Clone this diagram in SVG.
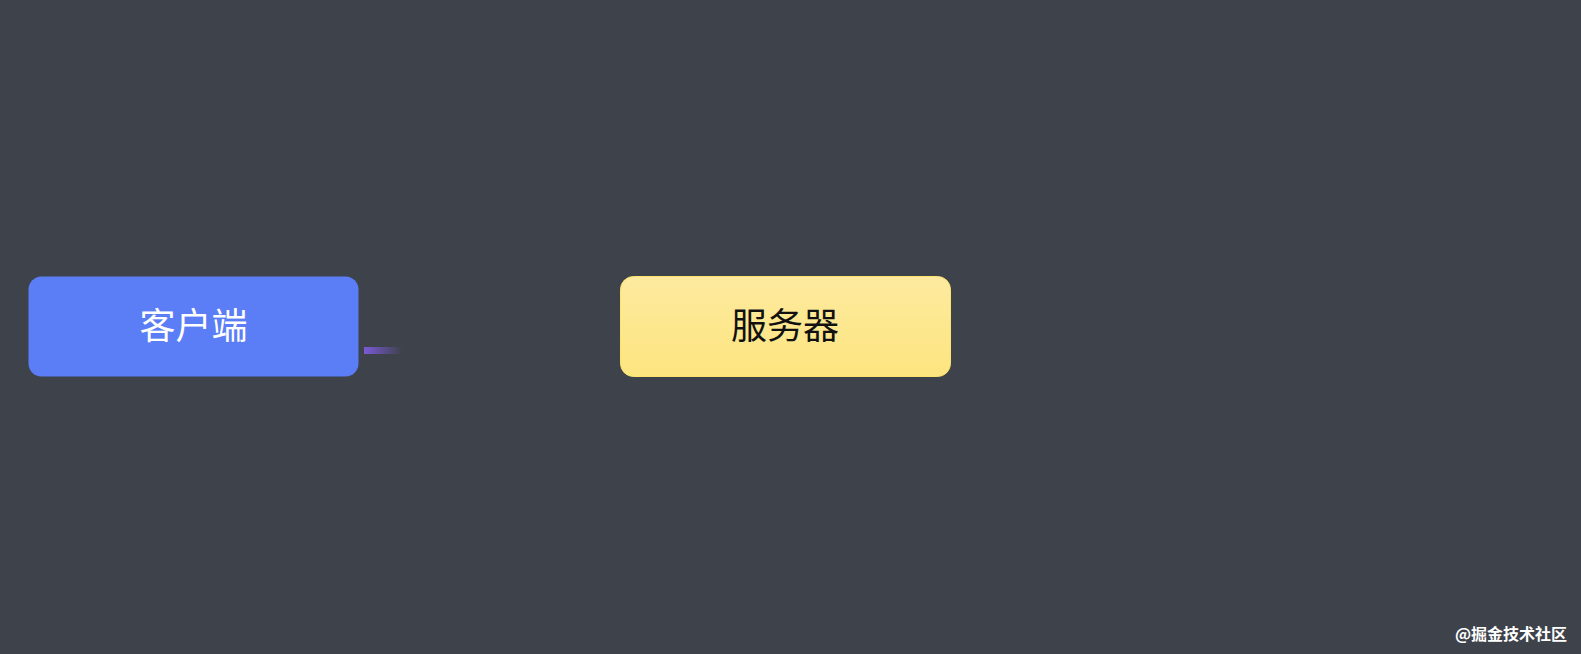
<svg xmlns="http://www.w3.org/2000/svg" width="1581" height="654" viewBox="0 0 1581 654">
<defs>
<linearGradient id="yg" x1="0" y1="0" x2="0" y2="1">
<stop offset="0" stop-color="#fdea9f"/>
<stop offset="1" stop-color="#fde57f"/>
</linearGradient>
<linearGradient id="cg" x1="0" y1="0" x2="1" y2="0">
<stop offset="0" stop-color="#7b5ad8"/>
<stop offset="1" stop-color="#7b5ad8" stop-opacity="0"/>
</linearGradient>
<style>
.lbl{font-family:"Noto Sans CJK SC","Noto Sans",sans-serif;font-size:36px;text-anchor:middle;dominant-baseline:central}
.wm{font-family:"Noto Sans CJK SC","Noto Sans",sans-serif;font-size:16px;font-weight:bold;fill:#ffffff;text-anchor:end}
</style>
</defs>
<rect x="0" y="0" width="1581" height="654" fill="#3e424b"/>
<g id="connectors">
<rect x="364" y="347" width="38" height="7" fill="url(#cg)"/>
</g>
<g id="client">
<rect x="28.5" y="276.5" width="330" height="100" rx="13" fill="#5b7ef7"/>
<text class="lbl" x="193.5" y="323" fill="#ffffff">客户端</text>
</g>
<g id="server">
<rect x="620.5" y="276.5" width="330" height="100" rx="13" fill="url(#yg)" stroke="#fde46e" stroke-width="1"/>
<text class="lbl" x="785" y="323" fill="#111111">服务器</text>
</g>
<text class="wm" x="1567" y="640">@掘金技术社区</text>
</svg>
